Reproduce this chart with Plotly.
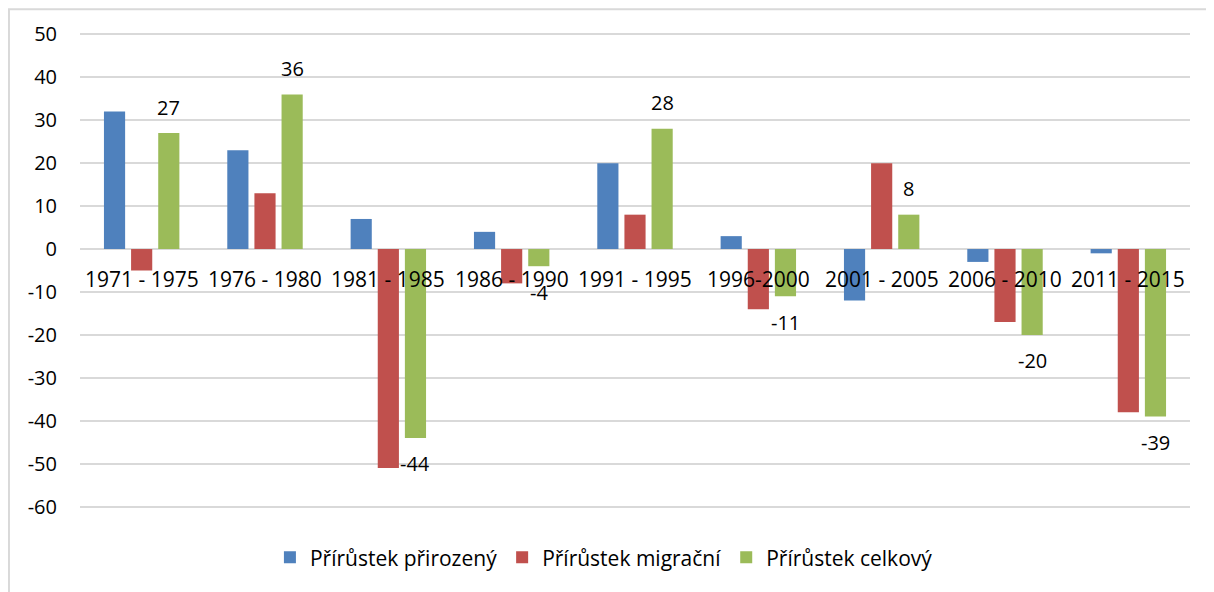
import plotly.graph_objects as go

categories = ["1971 - 1975", "1976 - 1980", "1981 - 1985", "1986 - 1990", "1991 - 1995",
              "1996-2000", "2001 - 2005", "2006 - 2010", "2011 - 2015"]
natural = [32, 23, 7, 4, 20, 3, -12, -3, -1]
migration = [-5, 13, -51, -8, 8, -14, 20, -17, -38]
total = [27, 36, -44, -4, 28, -11, 8, -20, -39]
series_names = ["Přírůstek přirozený", "Přírůstek migrační", "Přírůstek celkový"]
y_ticks = [-60, -50, -40, -30, -20, -10, 0, 10, 20, 30, 40, 50]
y_tick_labels = ["-60", "-50", "-40", "-30", "-20", "-10", "0", "10", "20", "30", "40", "50"]
colors = ["#4F81BD", "#C0504D", "#9BBB59"]

FONT = "Open Sans"

fig = go.Figure()
for name, vals, col in zip(series_names, [natural, migration, total], colors):
    fig.add_trace(go.Bar(x=categories, y=vals, name=name, marker_color=col,
                         marker_line_width=0))

# category labels at the zero line
for c in categories:
    fig.add_annotation(x=c, y=0, text=c, showarrow=False, yanchor="middle",
                       yshift=-30, font=dict(family=FONT, size=21, color="#000000"))

# data labels on total series
for c, v in zip(categories, total):
    fig.add_annotation(x=c, y=v, text=str(v), showarrow=False, yanchor="middle",
                       xshift=27, yshift=26 if v >= 0 else -26,
                       font=dict(family=FONT, size=20, color="#000000"))

# outer chart border
fig.add_shape(type="rect", xref="paper", yref="paper", x0=-0.064, x1=1.05,
              y0=-0.2, y1=1.043, line=dict(color="#d9d9d9", width=2),
              fillcolor="rgba(0,0,0,0)", layer="below")

fig.update_layout(
    width=1206, height=584,
    margin=dict(l=72, r=24, t=22, b=81),
    paper_bgcolor="white", plot_bgcolor="white",
    barmode="group", bargap=0.34, bargroupgap=0.22,
    font=dict(family=FONT, size=20, color="#000000"),
    showlegend=True,
    legend=dict(orientation="h", x=0.472, xanchor="center", y=-0.097, yanchor="middle",
                font=dict(family=FONT, size=21, color="#000000"),
                itemwidth=30, tracegroupgap=0),
    xaxis=dict(showticklabels=False, showgrid=False, zeroline=False, showline=False,
               ticks=""),
    yaxis=dict(range=[-61, 51], tickvals=y_ticks, ticktext=y_tick_labels, showgrid=True,
               gridcolor="#d9d9d9", gridwidth=1.5, zeroline=True, zerolinecolor="#d9d9d9",
               zerolinewidth=1.5, showline=False, ticks="", ticklabelstandoff=22,
               tickfont=dict(family=FONT, size=20, color="#000000")),
)

fig.write_html("out.html")
